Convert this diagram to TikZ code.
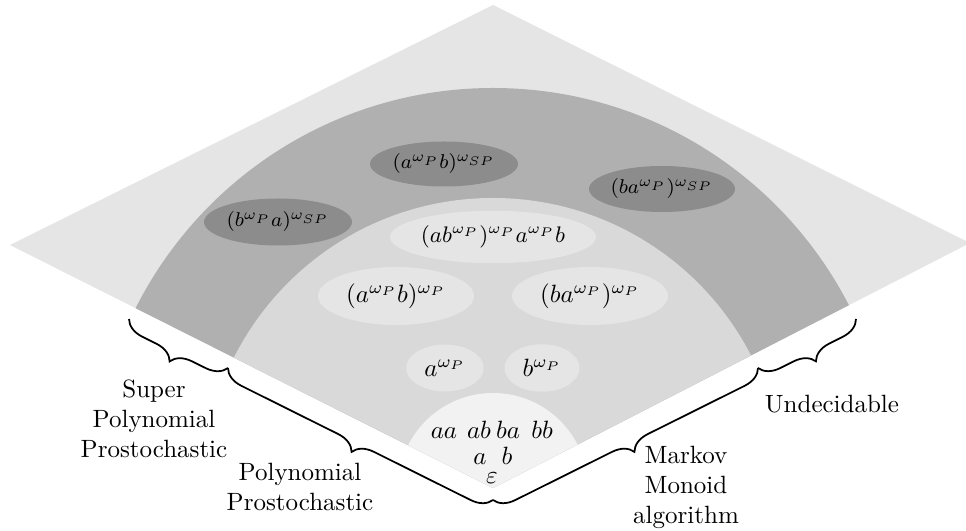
\documentclass[tikz,border=0pt]{standalone}
\usetikzlibrary{decorations.pathreplacing,shapes.geometric}
\begin{document}
\begin{tikzpicture}[x=0.4pt,y=-0.4pt,
  darkell/.style={ellipse, fill=black!45, inner sep=0pt, font=\footnotesize},
  lightell/.style={ellipse, fill=black!10, inner sep=0pt},
  bracestyle/.style={decorate, decoration={brace, amplitude=8pt}, line width=0.7pt},
  lab/.style={align=center},
  word/.style={anchor=base, inner sep=0pt}]
\useasboundingbox (0,0) rectangle (966,531);
\coordinate (L) at (10,245);
\coordinate (T) at (493,5);
\coordinate (R) at (970,243);
\coordinate (B) at (493,488);
\fill[black!10] (L) -- (T) -- (R) -- (B) -- cycle;
\begin{scope}
  \clip (L) -- (T) -- (R) -- (B) -- cycle;
  \fill[black!31] (B) circle[radius=160pt];
  \fill[black!15] (B) circle[radius=116pt];
  \fill[black!5] (B) circle[radius=38pt];
\end{scope}
% dark ellipses
\node[darkell, minimum width=59.2pt, minimum height=18.8pt] (bpa) at (278,222) {$(b^{\omega_P}a)^{\omega_{SP}}$};
\node[darkell, minimum width=59.2pt, minimum height=18pt] (apb) at (444,164) {$(a^{\omega_P}b)^{\omega_{SP}}$};
\node[darkell, minimum width=58.4pt, minimum height=18.4pt] (bap) at (662,189) {$(ba^{\omega_P})^{\omega_{SP}}$};
% light ellipses
\node[lightell, minimum width=82.4pt, minimum height=21pt, font=\small] (long) at (493,237) {$(ab^{\omega_P})^{\omega_P}a^{\omega_P}b$};
\node[lightell, minimum width=62.4pt, minimum height=23.2pt] (apbP) at (396,296) {$(a^{\omega_P}b)^{\omega_P}$};
\node[lightell, minimum width=62.4pt, minimum height=23.2pt] (bapP) at (590,296) {$(ba^{\omega_P})^{\omega_P}$};
\node[lightell, minimum width=31pt, minimum height=18.8pt] (aP) at (445,368) {$a^{\omega_P}$};
\node[lightell, minimum width=30pt, minimum height=19pt] (bP) at (542,368) {$b^{\omega_P}$};
% words
\node[word] (aa) at (444,439) {$aa$};
\node[word] (ab) at (479,439) {$ab$};
\node[word] (ba) at (508,439) {$ba$};
\node[word] (bb) at (542,439) {$bb$};
\node[word] (wa) at (480,465) {$a$};
\node[word] (wb) at (507,465) {$b$};
\node[word] (eps) at (492,484) {$\varepsilon$};
% braces
\coordinate (b0) at (493,500);
\coordinate (bl1) at (228,368);
\coordinate (bl2) at (129,319);
\coordinate (br1) at (758,368);
\coordinate (br2) at (856,319);
\draw[bracestyle] (bl1) -- (bl2);
\draw[bracestyle] (b0) -- (bl1);
\draw[bracestyle] (br1) -- (b0);
\draw[bracestyle] (br2) -- (br1);
% labels
\node[lab] (sp) at (154,419) {Super\\Polynomial\\Prostochastic};
\node[lab] (pp) at (300,487) {Polynomial\\Prostochastic};
\node[lab] (mm) at (686,487) {Markov\\Monoid\\algorithm};
\node[lab] (un) at (832,404) {Undecidable};
\end{tikzpicture}
\end{document}
